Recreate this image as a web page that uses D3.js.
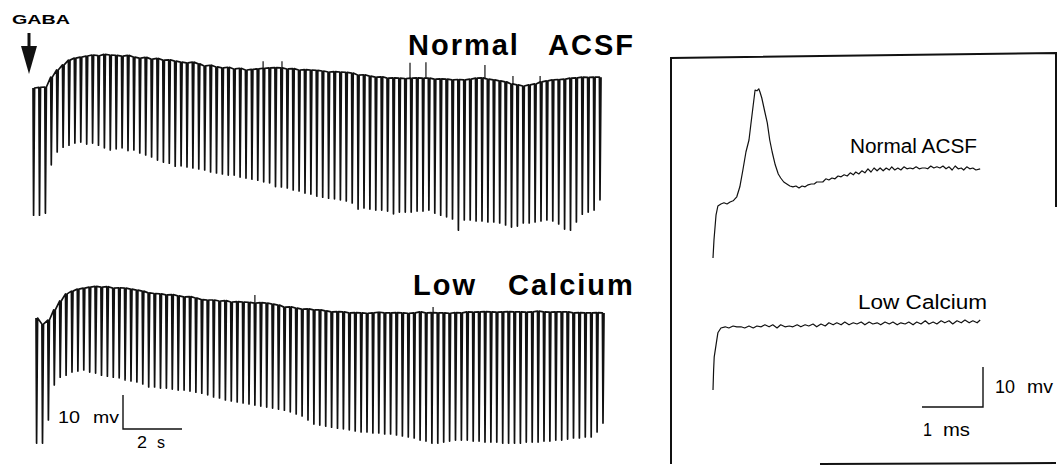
<!DOCTYPE html>
<html>
<head>
<meta charset="utf-8">
<script src="https://cdn.jsdelivr.net/npm/d3@7"></script>
<style>
  html, body { margin: 0; padding: 0; background: #fff; }
  svg { display: block; font-family: "Liberation Sans", Arial, Helvetica, sans-serif; }
  .trace { fill: none; stroke: #111; stroke-linejoin: round; }
</style>
</head>
<body>
<div id="chart"></div>
<script>
// stimulation every 0.2 s (5 Hz); one value per stimulus, in mV relative to trace start
var SPIKE_INTERVAL = 0.2;

var acsfBase = [
  0, 0.2, 0.3, 3.2, 5.3, 6.8, 8.2, 8.8, 9.1, 9.4,
  9.7, 9.5, 9.9, 9.7, 9.6, 9.4, 9.6, 9.1, 8.8, 9.0,
  8.5, 8.7, 8.2, 8.3, 7.9, 7.6, 7.4, 7.6, 7.1, 6.5,
  6.7, 6.2, 5.9, 6.1, 5.6, 5.8, 5.3, 5.5, 5.6, 5.8,
  5.9, 6.0, 5.9, 5.6, 5.7, 5.3, 5.4, 5.3, 5.2, 5.0,
  4.7, 4.8, 4.7, 4.6, 4.4, 3.8, 3.9, 3.5, 3.2, 3.3,
  2.9, 3.0, 2.9, 2.8, 2.9, 3.0, 2.9, 2.9, 2.6, 2.7,
  2.6, 2.4, 2.5, 2.4, 2.6, 2.9, 3.0, 2.6, 2.4, 2.1,
  1.8, 1.2, 0.9, 0.6, 0.9, 1.2, 1.8, 2.1, 2.4, 2.5,
  2.6, 2.9, 3.0, 3.2, 3.1, 3.2, 3.2
];
var acsfTrough = [
  -37.4, -37.4, -36.8, -22.6, -18.8, -17.4, -16.8, -16.2, -15.9, -16.5,
  -16.2, -16.8, -17.6, -18.2, -17.9, -17.6, -18.4, -18.2, -19.1, -19.7,
  -20.3, -21.2, -21.8, -22.1, -23.0, -22.9, -23.2, -23.5, -23.8, -24.1,
  -24.7, -25.0, -25.3, -25.6, -25.6, -26.2, -26.5, -26.8, -27.1, -27.6,
  -27.9, -29.0, -29.1, -29.4, -30.0, -30.3, -30.9, -31.2, -31.8, -32.1,
  -32.4, -32.6, -32.9, -33.2, -33.8, -35.6, -35.3, -35.6, -35.9, -35.9,
  -36.2, -37.0, -36.5, -36.5, -36.5, -36.2, -36.2, -35.9, -36.8, -37.4,
  -37.9, -38.5, -41.8, -38.8, -38.8, -39.1, -39.1, -39.4, -39.4, -39.7,
  -40.3, -40.9, -40.6, -39.7, -39.7, -39.4, -39.1, -38.8, -39.1, -40.0,
  -41.5, -41.8, -39.4, -37.1, -36.5, -35.9, -32.9
];
var acsfBlipTimes = [7.8, 8.44, 12.78, 13.32, 15.32, 16.27, 17.19];
var acsfBlipPeaks = [7.9, 7.9, 7.4, 7.6, 6.8, 3.5, 3.5];

var lowCaBase = [
  0, -1.8, -0.6, 2.4, 5.0, 7.1, 7.9, 8.5, 8.8, 9.1,
  9.3, 9.1, 9.2, 8.8, 8.9, 8.8, 8.5, 8.2, 7.9, 7.4,
  7.2, 7.1, 6.8, 6.9, 6.5, 6.2, 6.3, 5.9, 5.4, 5.3,
  5.3, 5.0, 5.1, 4.7, 4.8, 4.7, 4.6, 4.4, 4.5, 4.4,
  4.1, 3.8, 3.2, 3.3, 2.9, 2.6, 2.7, 2.4, 2.4, 2.1,
  1.8, 1.9, 1.8, 1.5, 1.6, 1.5, 1.4, 1.5, 1.7, 1.5,
  1.5, 1.6, 1.5, 1.4, 1.5, 1.8, 1.5, 1.6, 1.5, 1.5,
  1.4, 1.6, 1.5, 1.8, 1.7, 1.8, 1.9, 1.8, 1.7, 1.8,
  1.9, 1.8, 1.8, 1.7, 1.8, 2.0, 1.8, 1.7, 1.8, 1.8,
  1.8, 1.5, 1.6, 1.5, 1.5, 1.6, 1.5
];
var lowCaTrough = [
  -36.8, -36.8, -30.0, -19.7, -17.4, -16.8, -15.9, -15.6, -15.3, -15.9,
  -16.2, -16.8, -17.1, -17.4, -17.6, -18.2, -18.5, -18.8, -19.4, -20.3,
  -20.3, -20.6, -20.6, -20.9, -21.2, -21.2, -21.5, -21.8, -22.1, -22.6,
  -23.2, -23.5, -24.1, -24.4, -24.7, -25.0, -25.3, -25.6, -25.9, -26.2,
  -26.5, -26.8, -27.1, -27.6, -28.2, -28.8, -30.0, -31.2, -31.5, -31.8,
  -32.1, -32.4, -32.6, -32.9, -33.2, -33.5, -33.5, -33.8, -33.8, -34.1,
  -34.1, -34.4, -34.7, -35.0, -35.3, -35.9, -36.2, -36.8, -36.8, -36.5,
  -36.2, -35.9, -35.9, -35.9, -36.2, -36.2, -36.5, -36.5, -36.5, -36.8,
  -36.8, -36.8, -36.8, -36.5, -36.5, -36.5, -36.2, -36.2, -35.9, -35.9,
  -35.6, -35.3, -35.3, -35.0, -35.0, -33.5, -30.9
];
var lowCaBlipTimes = [7.42, 13.46];
var lowCaBlipPeaks = [6.8, 3.2];

// single evoked responses (ms, mV)
var acsfSweepMs = [
  0, 0.016, 0.05, 0.08, 0.13, 0.18, 0.23, 0.28, 0.33, 0.39,
  0.44, 0.49, 0.54, 0.59, 0.62, 0.66, 0.69, 0.72, 0.75, 0.77,
  0.8, 0.85, 0.89, 0.93, 0.97, 1.02, 1.07, 1.11, 1.16, 1.21,
  1.26, 1.31, 1.36, 1.41, 1.46, 1.51, 1.56, 1.61, 1.66, 1.7,
  1.75, 1.8, 1.85, 1.9, 1.95, 2.0, 2.05, 2.1, 2.15, 2.2,
  2.25, 2.3, 2.34, 2.39, 2.44, 2.49, 2.54, 2.59, 2.64, 2.69,
  2.74, 2.79, 2.84, 2.89, 2.93, 2.98, 3.03, 3.08, 3.13, 3.18,
  3.23, 3.28, 3.33, 3.38, 3.43, 3.48, 3.52, 3.57, 3.62, 3.67,
  3.72, 3.77, 3.82, 3.87, 3.92, 3.97, 4.02, 4.07, 4.11, 4.16,
  4.21, 4.26, 4.31, 4.38
];
var acsfSweepMv = [
  0, 4.5, 10.8, 13, 13.5, 13.8, 13.5, 14, 14.3, 15.3,
  17.8, 22, 26.5, 29.5, 33.3, 38.3, 42, 41.8, 42.3, 41.5,
  40, 36.5, 33.8, 29.5, 26.5, 23.3, 21, 20, 19, 18.5,
  18, 17.8, 18, 17.5, 18, 17.8, 18.3, 18.5, 18.5, 19,
  19, 19, 19.8, 19.5, 20, 19.8, 20.5, 20.3, 20.8, 20.5,
  21.3, 20.8, 21.5, 21, 21.8, 21.3, 22.3, 21.5, 22.5, 21.8,
  22.5, 21.8, 22.5, 22, 22.8, 22, 22.5, 22, 22.8, 22.3,
  22.5, 22.3, 22.8, 22.3, 22.5, 22.5, 22.3, 23, 22.5, 22.8,
  22.5, 23, 22.3, 22.8, 22, 23, 22.3, 22.5, 22, 22.8,
  22.3, 22.5, 22, 22.3
];
var lowCaSweepMs = [
  0, 0.01, 0.02, 0.05, 0.08, 0.13, 0.2, 0.26, 0.33, 0.39,
  0.46, 0.52, 0.59, 0.66, 0.72, 0.79, 0.85, 0.92, 0.98, 1.05,
  1.11, 1.18, 1.25, 1.31, 1.38, 1.44, 1.51, 1.57, 1.64, 1.7,
  1.77, 1.84, 1.9, 1.97, 2.03, 2.1, 2.16, 2.23, 2.3, 2.36,
  2.43, 2.49, 2.56, 2.62, 2.69, 2.75, 2.82, 2.89, 2.95, 3.02,
  3.08, 3.15, 3.21, 3.28, 3.34, 3.41, 3.48, 3.54, 3.61, 3.67,
  3.74, 3.8, 3.87, 3.93, 4.0, 4.07, 4.13, 4.2, 4.26, 4.33,
  4.38
];
var lowCaSweepMv = [
  0, 5, 8.3, 11.3, 14.3, 15.5, 15.8, 15.5, 16, 15.8,
  15.8, 15.5, 16, 15.5, 16, 15.8, 16.3, 15.8, 16.3, 15.5,
  16.3, 15.8, 16, 15.8, 16.3, 15.8, 16.3, 16, 16.5, 15.8,
  16.5, 16, 16.8, 16.3, 16.8, 16.3, 17, 16.3, 16.8, 16.5,
  17, 16.3, 17, 16.5, 16.8, 16.3, 17, 16.5, 17, 16.3,
  16.8, 16.5, 17, 16.3, 17, 16.5, 17.3, 16.5, 17, 16.5,
  17.3, 16.8, 17.3, 16.5, 17.3, 16.8, 17.5, 16.8, 17.3, 16.8,
  17.5
];

var width = 1058,
  height = 466;

var svg = d3.select('#chart')
  .append('svg')
  .attr('width', width)
  .attr('height', height);

// slow recordings: 2 s = 59 px, 10 mV = 34 px
var xSlow = d3.scaleLinear().domain([0, 2]).range([0, 59]);
var ySlow = d3.scaleLinear().domain([0, 10]).range([0, -34]);

// single sweeps: 1 ms = 61 px, 10 mV = 40 px
var xFast = d3.scaleLinear().domain([0, 1]).range([0, 61]);
var yFast = d3.scaleLinear().domain([0, 10]).range([0, -40]);

var slowLine = d3.line()
  .x(function(d) { return xSlow(d[0]); })
  .y(function(d) { return ySlow(d[1]); });

var fastLine = d3.line()
  .x(function(d) { return xFast(d[0]); })
  .y(function(d) { return yFast(d[1]); });

function spikeTrain(base, trough) {
  var pts = [];
  base.forEach(function(b, i) {
    var t = i * SPIKE_INTERVAL;
    pts.push([t, b]);
    pts.push([t + 0.02, trough[i]]);
    pts.push([t + 0.055, b]);
  });
  return pts;
}

function drawTrain(x0, y0, base, trough, blipT, blipV) {
  var g = svg.append('g').attr('transform', 'translate(' + x0 + ',' + y0 + ')');
  g.append('path')
    .attr('class', 'trace')
    .attr('stroke-width', 1.7)
    .attr('d', slowLine(spikeTrain(base, trough)));
  g.selectAll('line.blip')
    .data(blipT.map(function(t, i) { return { t: t, v: blipV[i] }; }))
    .enter()
    .append('line')
    .attr('class', 'blip')
    .attr('stroke', '#111')
    .attr('stroke-width', 1.2)
    .attr('x1', function(d) { return xSlow(d.t); })
    .attr('x2', function(d) { return xSlow(d.t); })
    .attr('y1', function(d) { return ySlow(base[Math.round(d.t / SPIKE_INTERVAL)]); })
    .attr('y2', function(d) { return ySlow(d.v); });
  return g;
}

drawTrain(33, 88, acsfBase, acsfTrough, acsfBlipTimes, acsfBlipPeaks);
drawTrain(36, 318, lowCaBase, lowCaTrough, lowCaBlipTimes, lowCaBlipPeaks);

// GABA application arrow
svg.append('text')
  .attr('x', 12)
  .attr('y', 24)
  .attr('textLength', 58)
  .attr('lengthAdjust', 'spacingAndGlyphs')
  .style('font-size', '13px')
  .style('font-weight', 'bold')
  .text('GABA');
svg.append('line')
  .attr('x1', 29).attr('x2', 29)
  .attr('y1', 33).attr('y2', 50)
  .attr('stroke', '#111')
  .attr('stroke-width', 3);
svg.append('path')
  .attr('d', 'M21,46 L37,46 L29,74 Z')
  .attr('fill', '#111');

// big condition labels
var bigLabels = svg.append('g')
  .style('font-size', '29px')
  .style('font-weight', 'bold')
  .style('letter-spacing', '2px');
bigLabels.append('text').attr('x', 408).attr('y', 55).text('Normal');
bigLabels.append('text').attr('x', 548).attr('y', 55).text('ACSF');
bigLabels.append('text').attr('x', 413).attr('y', 295).text('Low');
bigLabels.append('text').attr('x', 508).attr('y', 295).text('Calcium');

// calibration text pieces: [text, x, y, width, size]
function calText(s, x, y, w, size) {
  svg.append('text')
    .attr('x', x).attr('y', y)
    .attr('textLength', w)
    .attr('lengthAdjust', 'spacingAndGlyphs')
    .style('font-size', size + 'px')
    .text(s);
}

// left calibration bar
var calL = svg.append('g').attr('transform', 'translate(123,429)');
calL.append('path')
  .attr('fill', 'none')
  .attr('stroke', '#111')
  .attr('stroke-width', 1.4)
  .attr('d', 'M0,' + ySlow(10) + 'V0H' + xSlow(2));
calText('10', 58, 423, 22, 16);
calText('mv', 93, 423, 26, 16);
calText('2', 137, 448, 10, 16);
calText('s', 157, 448, 8, 16);

// inset box
svg.append('path')
  .attr('fill', 'none')
  .attr('stroke', '#111')
  .attr('stroke-width', 2)
  .attr('d', 'M1056,207 V53 L671,58 V464');
svg.append('path')
  .attr('fill', 'none')
  .attr('stroke', '#111')
  .attr('stroke-width', 2)
  .attr('d', 'M820,464 L1056,463');

// single sweeps
var acsfSweep = acsfSweepMs.map(function(t, i) { return [t, acsfSweepMv[i]]; });
var lowCaSweep = lowCaSweepMs.map(function(t, i) { return [t, lowCaSweepMv[i]]; });

svg.append('g').attr('transform', 'translate(713,258)')
  .append('path')
  .attr('class', 'trace')
  .attr('stroke-width', 1.2)
  .attr('d', fastLine(acsfSweep));

svg.append('g').attr('transform', 'translate(713,390)')
  .append('path')
  .attr('class', 'trace')
  .attr('stroke-width', 1.2)
  .attr('d', fastLine(lowCaSweep));

svg.append('text')
  .attr('x', 850).attr('y', 153)
  .attr('textLength', 127)
  .attr('lengthAdjust', 'spacingAndGlyphs')
  .style('font-size', '20px')
  .text('Normal ACSF');
svg.append('text')
  .attr('x', 858).attr('y', 309)
  .attr('textLength', 129)
  .attr('lengthAdjust', 'spacingAndGlyphs')
  .style('font-size', '20px')
  .text('Low Calcium');

// right calibration bar
var calR = svg.append('g').attr('transform', 'translate(983,407)');
calR.append('path')
  .attr('fill', 'none')
  .attr('stroke', '#111')
  .attr('stroke-width', 1.4)
  .attr('d', 'M0,' + yFast(10) + 'V0H' + (-xFast(1)));
calText('10', 995, 393, 20, 18);
calText('mv', 1027, 393, 26, 18);
calText('1', 923, 436, 9, 18);
calText('ms', 943, 436, 27, 18);
</script>
</body>
</html>
